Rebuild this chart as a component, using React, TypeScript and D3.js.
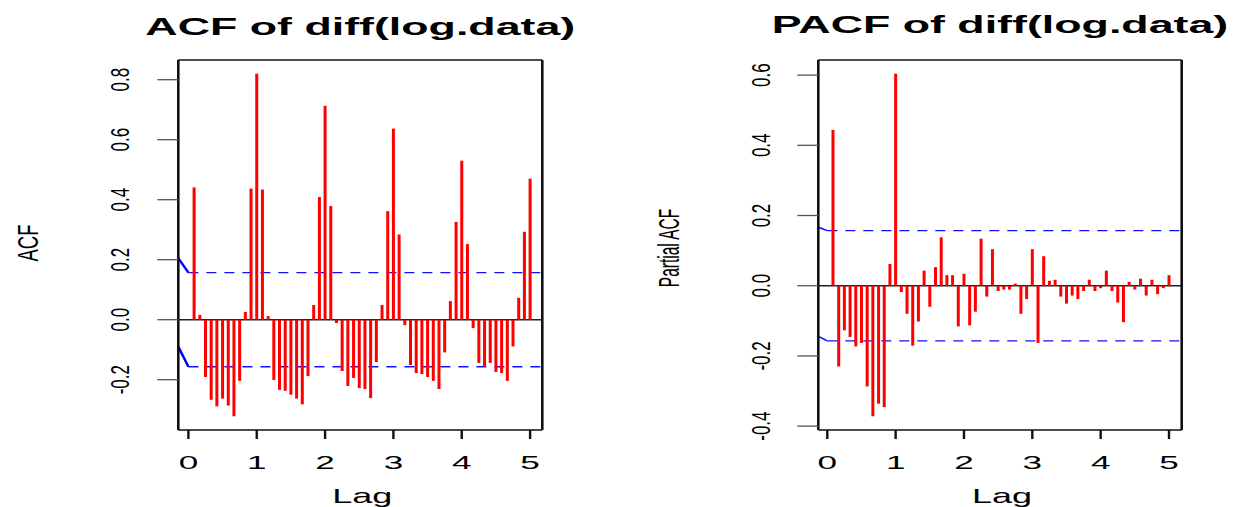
import React from 'react';
import * as d3 from 'd3';

// ---- data ----
const lagsPerUnit = 12;
const acfValues = [
  0.441, 0.016, -0.191, -0.267, -0.289, -0.263, -0.286, -0.322, -0.204, 0.026,
  0.437, 0.820, 0.434, 0.012, -0.201, -0.234, -0.237, -0.250, -0.263, -0.282,
  -0.188, 0.049, 0.409, 0.713, 0.379, -0.011, -0.171, -0.221, -0.194, -0.228,
  -0.231, -0.261, -0.141, 0.049, 0.362, 0.637, 0.284, -0.018, -0.151, -0.178,
  -0.181, -0.191, -0.204, -0.231, -0.109, 0.062, 0.326, 0.530, 0.252, -0.028,
  -0.144, -0.158, -0.144, -0.174, -0.178, -0.204, -0.089, 0.073, 0.293, 0.470,
];
const pacfValues = [
  0.444, -0.230, -0.127, -0.146, -0.173, -0.163, -0.287, -0.372, -0.336, -0.346,
  0.062, 0.604, -0.018, -0.080, -0.171, -0.102, 0.043, -0.060, 0.053, 0.138,
  0.030, 0.030, -0.116, 0.034, -0.113, -0.074, 0.134, -0.031, 0.104, -0.015,
  -0.011, -0.011, 0.006, -0.080, -0.038, 0.104, -0.163, 0.084, 0.014, 0.017,
  -0.031, -0.051, -0.028, -0.038, -0.015, 0.017, -0.015, -0.007, 0.043, -0.015,
  -0.048, -0.104, 0.011, -0.011, 0.020, -0.028, 0.017, -0.024, -0.007, 0.030,
];
const lagTicks = [0, 1, 2, 3, 4, 5];
const acfYTicks = [-0.2, 0.0, 0.2, 0.4, 0.6, 0.8];
const pacfYTicks = [-0.4, -0.2, 0.0, 0.2, 0.4, 0.6];
const ciBound = 0.157;
const acfLeadIn = [0.206, -0.089];
const pacfLeadIn = [0.168, -0.142];
const leadInLag = -0.15;

const FONT = '"Liberation Sans", Arial, Helvetica, sans-serif';
const SX = 1.8; // horizontal stretch of the original picture

type PanelProps = {
  values: number[];
  yTicks: number[];
  leadIn: number[];
  leadWidth: number;
  box: { x0: number; x1: number; y0: number; y1: number };
  xRange: [number, number];
  title: string;
  titleY: number;
  ylabel: string;
  ylabelX: number;
  ylabelY: number;
  ylabelSize: number;
  ylabelSX: number;
  ytickX: number;
};

function Panel(p: PanelProps) {
  const { box } = p;
  const lags = p.values.map((_, i) => (i + 1) / lagsPerUnit);
  const ext = d3.extent([...p.values, ciBound, -ciBound]) as [number, number];
  const pad = (ext[1] - ext[0]) * 0.04;
  const y = d3.scaleLinear().domain([ext[0] - pad, ext[1] + pad]).range([box.y1, box.y0]);
  const x = d3.scaleLinear().domain([0, 5]).range(p.xRange);
  const cx = (box.x0 + box.x1) / 2;
  return (
    <g fontFamily={FONT}>
      {/* title */}
      <text
        transform={`translate(${cx},${p.titleY}) scale(1.88,1)`}
        textAnchor="middle"
        fontWeight="bold"
        fontSize={23.8}
        fill="#000"
      >
        {p.title}
      </text>
      {/* zero line */}
      <line x1={box.x0} x2={box.x1} y1={y(0)} y2={y(0)} stroke="#222" strokeWidth={1.5} />
      {/* confidence bounds */}
      {[ciBound, -ciBound].map((c, i) => (
        <g key={i}>
          <line
            x1={x(0)}
            x2={box.x1 - 2}
            y1={y(c)}
            y2={y(c)}
            stroke="#1010ff"
            strokeWidth={1.4}
            strokeDasharray="10 8"
          />
          <line
            x1={x(leadInLag)}
            x2={x(0)}
            y1={y(p.leadIn[i])}
            y2={y(c)}
            stroke="#0000ff"
            strokeWidth={p.leadWidth}
          />
        </g>
      ))}
      {/* bars */}
      {p.values.map((v, i) => (
        <line
          key={i}
          x1={x(lags[i])}
          x2={x(lags[i])}
          y1={y(0)}
          y2={y(v)}
          stroke="#ff0000"
          strokeWidth={3}
        />
      ))}
      {/* box */}
      <line x1={box.x0} x2={box.x1} y1={box.y0} y2={box.y0} stroke="#111" strokeWidth={1.6} />
      <line x1={box.x0} x2={box.x1} y1={box.y1} y2={box.y1} stroke="#111" strokeWidth={1.6} />
      <line x1={box.x0} x2={box.x0} y1={box.y0} y2={box.y1} stroke="#111" strokeWidth={2.6} />
      <line x1={box.x1} x2={box.x1} y1={box.y0} y2={box.y1} stroke="#111" strokeWidth={2.6} />
      {/* x axis */}
      {lagTicks.map((t) => (
        <g key={t}>
          <line x1={x(t)} x2={x(t)} y1={box.y1} y2={box.y1 + 9} stroke="#111" strokeWidth={2.4} />
          <text
            transform={`translate(${x(t)},${469}) scale(${SX + 0.15},1)`}
            textAnchor="middle"
            fontSize={18}
            fill="#000"
          >
            {String(t)}
          </text>
        </g>
      ))}
      <text
        transform={`translate(${cx + 2},${503}) scale(${SX},1)`}
        textAnchor="middle"
        fontSize={20}
        fill="#000"
      >
        Lag
      </text>
      {/* y axis */}
      {p.yTicks.map((t) => (
        <g key={t}>
          <line x1={box.x0 - 21} x2={box.x0} y1={y(t)} y2={y(t)} stroke="#555" strokeWidth={1.3} />
          <text
            transform={`translate(${p.ytickX},${y(t)}) scale(1.55,1) rotate(-90)`}
            textAnchor="middle"
            dy="0.36em"
            fontSize={17}
            fill="#000"
          >
            {t.toFixed(1)}
          </text>
        </g>
      ))}
      <text
        transform={`translate(${p.ylabelX},${p.ylabelY}) scale(${p.ylabelSX},1) rotate(-90)`}
        textAnchor="middle"
        dy="0.36em"
        fontSize={p.ylabelSize}
        fill="#000"
      >
        {p.ylabel}
      </text>
    </g>
  );
}

export default function App() {
  return (
    <div style={{ position: 'fixed', left: 0, top: 0 }}>
      <svg width={1236} height={507} style={{ display: 'block', background: '#fff' }}>
        <Panel
          values={acfValues}
          yTicks={acfYTicks}
          leadIn={acfLeadIn}
          leadWidth={2.5}
          box={{ x0: 178.3, x1: 542.3, y0: 60, y1: 430 }}
          xRange={[188.4, 530.1]}
          title="ACF of diff(log.data)"
          titleY={35}
          ylabel="ACF"
          ylabelX={27}
          ylabelY={243}
          ylabelSize={18.5}
          ylabelSX={1.6}
          ytickX={120}
        />
        <Panel
          values={pacfValues}
          yTicks={pacfYTicks}
          leadIn={pacfLeadIn}
          leadWidth={1.5}
          box={{ x0: 818.3, x1: 1181.7, y0: 60, y1: 430 }}
          xRange={[827.3, 1169]}
          title="PACF of diff(log.data)"
          titleY={33}
          ylabel="Partial ACF"
          ylabelX={668}
          ylabelY={248}
          ylabelSize={15.5}
          ylabelSX={1.9}
          ytickX={761}
        />
      </svg>
    </div>
  );
}
